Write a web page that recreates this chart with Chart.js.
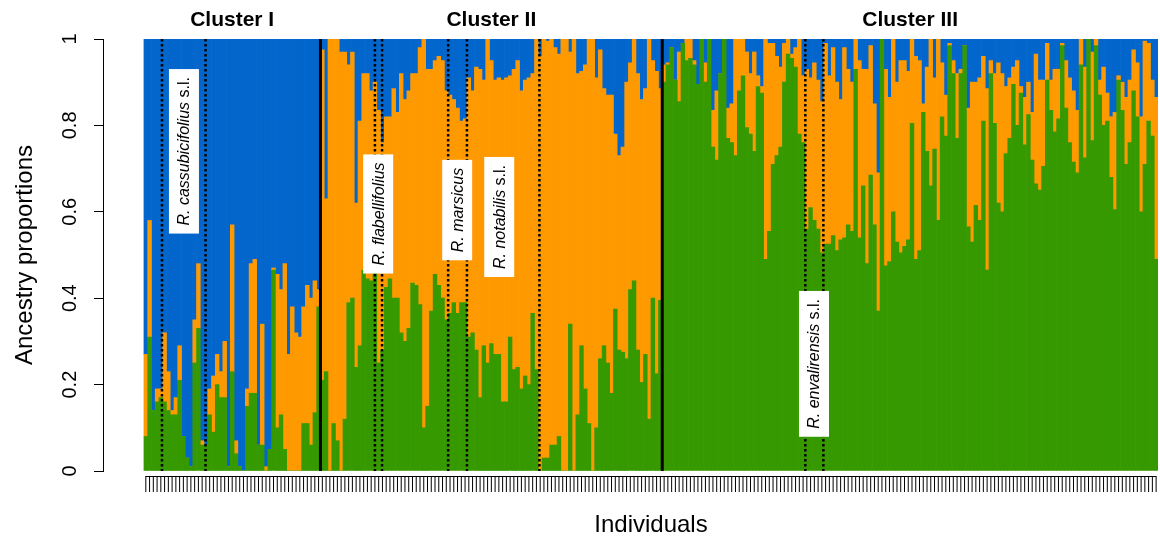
<!DOCTYPE html>
<html>
<head>
<meta charset="utf-8">
<script src="https://cdn.jsdelivr.net/npm/chart.js@4.4.1/dist/chart.umd.min.js"></script>
<style>
  html, body { margin: 0; padding: 0; background: #fff; }
  #wrap { width: 1160px; height: 541px; }
</style>
</head>
<body>
<div id="wrap"><canvas id="c" width="1160" height="541"></canvas></div>
<script>
// ancestry proportions per individual (green = bottom, orange = middle, blue = top)
const green = [
  .08,.31,.14,.16,.17,.16,.14,.13,.13,.21,
  .08,.03,.01,.25,.33,.06,.06,.13,.09,.20,
  .17,.17,.01,.23,.04,.01,0,.15,.18,.18,
  .06,.06,0,.05,.465,.10,.13,.05,0,0,
  0,0,.11,.11,.06,.135,.38,.21,.23,0,
  .11,.07,0,.12,.39,.40,.24,.29,.465,.445,
  .44,.465,.25,.28,.425,.445,.40,.40,.32,.30,
  .33,.435,.43,.385,.10,.15,.37,.455,.43,.40,
  .35,.365,.39,.365,.39,.39,.31,.32,.28,.17,
  .29,.25,.295,.27,.27,.16,.16,.31,.235,.24,
  .19,.22,.20,.365,.235,0,.03,.03,.06,.06,
  .08,0,0,.34,0,.13,.29,.19,.11,0,
  .10,.26,.29,.25,.18,.375,.28,.275,.26,.42,
  .44,.28,.205,.27,.12,.40,.225,.395,.90,.94,
  .98,.905,.855,.99,.95,.955,.94,.895,1,.90,
  1,.75,.72,.92,1,.77,.76,.73,.88,.915,
  .795,.78,.74,.89,.875,.49,.555,.71,.73,.75,
  .90,.965,.955,.935,.78,.76,.56,.61,.58,.56,
  .505,.525,.525,.545,.51,.535,.54,.57,.555,.93,
  .54,.66,.48,.685,.57,.37,1,.475,.485,.60,
  .53,.505,.52,.535,.805,.49,.51,.83,.74,.66,
  .745,.58,.82,.775,.985,.92,.77,.92,.985,.565,
  .53,.615,.58,.81,.465,.92,.805,.62,.60,.735,
  .77,.895,.80,.875,.755,.825,.72,.665,.65,.705,
  .905,.835,.785,.815,.985,.84,.76,.715,.69,.94,
  .725,1,.765,.985,.87,.80,.81,.68,.605,.905,
  .835,.71,.76,.88,.82,.60,.71,.81,.775,.49
];
const orange = [
  .19,.27,0,.03,.02,.16,.09,.01,.04,.08,
  0,0,0,.10,.15,.01,0,.06,.13,.07,
  .06,.13,0,.34,.03,0,0,.04,.30,.31,
  0,.28,.01,0,.005,.355,.29,.43,.27,.38,
  .32,.31,.27,.32,.34,.305,.04,.765,.40,1,
  .89,.93,.97,.85,.55,.57,.38,.52,.455,.475,
  .44,.435,.585,.48,.395,.375,.485,.43,.60,.56,
  .55,.485,.49,.595,.90,.78,.56,.495,.53,.55,
  .53,.505,.47,.475,.42,.425,.60,.56,.655,.76,
  .615,.75,.655,.635,.64,.745,.75,.605,.695,.71,
  .69,.685,.71,.555,.765,.96,.97,.965,.94,.92,
  .885,1,1,.63,1,.79,.635,.75,.89,1,
  .81,.715,.595,.62,.69,.405,.45,.475,.64,.525,
  .56,.64,.655,.615,.88,.55,.70,.49,.04,.005,
  0,0,.115,0,.05,.045,.01,0,0,.045,
  0,.085,.16,0,0,.07,.09,.27,.12,.085,
  .175,.14,.23,.025,.015,.51,.435,.28,.23,.185,
  .09,.035,.01,.045,.22,.155,.37,.30,.365,.345,
  .35,.465,.39,.435,.39,.325,.44,.36,.345,.07,
  .41,.27,.45,.30,.28,.32,0,.455,.38,.40,
  .37,.445,.43,.39,.195,.47,.44,.02,.195,.34,
  .165,.42,.125,.095,.005,.03,.15,.01,0,.275,
  .37,.285,.33,.15,.42,.03,.115,.325,.32,.155,
  .14,.04,.15,.015,.11,.075,.11,.30,.255,.20,
  .085,.07,.145,.115,.005,.11,.15,.165,.145,.06,
  .21,0,.205,.015,.035,.135,.065,.14,.225,.01,
  .065,.155,.145,.095,.125,.22,.285,.18,.13,.375
];
const blue = [
  .73,.42,.86,.81,.81,.68,.77,.86,.83,.71,
  .92,.97,.99,.65,.52,.93,.94,.81,.78,.73,
  .77,.70,.99,.43,.93,.99,1,.81,.52,.51,
  .94,.66,.99,.95,.53,.545,.58,.52,.73,.62,
  .68,.69,.62,.57,.60,.56,.58,.025,.37,0,
  0,0,.03,.03,.06,.03,.38,.19,.08,.08,
  .12,.10,.165,.24,.18,.18,.115,.17,.08,.14,
  .12,.08,.08,.02,0,.07,.07,.05,.04,.05,
  .12,.13,.14,.16,.19,.185,.09,.12,.065,.07,
  .095,0,.05,.095,.09,.095,.09,.085,.07,.05,
  .12,.095,.09,.08,0,.04,0,.005,0,.02,
  .035,0,0,.03,0,.08,.075,.06,0,0,
  .09,.025,.115,.13,.13,.22,.27,.25,.10,.055,
  0,.08,.14,.115,0,.05,.075,.115,.06,.055,
  .02,.095,.03,.01,0,0,.05,.105,0,.055,
  0,.165,.12,.08,0,.16,.15,0,0,0,
  .03,.08,.03,.085,.11,0,.01,.01,.04,.065,
  .01,0,.035,.02,0,.085,.07,.09,.055,.095,
  .145,.01,.085,.02,.10,.14,.02,.07,.10,0,
  .05,.07,.07,.015,.15,.31,0,.07,.135,0,
  .10,.05,.05,.075,0,.04,.05,.15,.065,0,
  .09,0,.055,.13,.01,.05,.08,.07,.015,.16,
  .10,.10,.09,.04,.115,.05,.08,.055,.08,.11,
  .09,.065,.05,.11,.135,.10,.17,.035,.095,.095,
  .01,.095,.07,.07,.01,.05,.09,.12,.165,0,
  .065,0,.03,0,.095,.065,.125,.18,.17,.085,
  .10,.135,.095,.025,.055,.18,.005,.01,.095,.135
];

const clusterNames = ['Cluster I', 'Cluster II', 'Cluster III'];
const clusterSizes = [47, 91, 132];
// species group separators (in individual index units)
const speciesLines = [4.3, 15.9, 61.0, 62.9, 80.5, 85.5, 104.8, 175.6, 180.4];
const speciesNames = ['R. cassubicifolius', 'R. flabellifolius', 'R. marsicus', 'R. notabilis', 'R. envalirensis'];
const speciesSuffix = [' s.l.', '', '', ' s.l.', ' s.l.'];
const speciesAt = [[10.15, 0.74], [61.86, 0.595], [82.9, 0.604], [94.1, 0.588], [177.9, 0.248]];
const yTickLabels = ['0', '0.2', '0.4', '0.6', '0.8', '1'];

const FONT = "'Liberation Sans', Arial, Helvetica, sans-serif";
const n = green.length;
const individuals = green.map((v, i) => i);

const decor = {
  id: 'decor',
  afterDatasetsDraw(chart) {
    const { ctx, chartArea: a, scales: { x, y } } = chart;
    ctx.save();

    // dotted separators
    ctx.strokeStyle = '#000';
    ctx.lineWidth = 2.5;
    ctx.setLineDash([2.5, 2.5]);
    speciesLines.forEach(v => {
      const px = x.getPixelForValue(v);
      ctx.beginPath();
      ctx.moveTo(px, a.top);
      ctx.lineTo(px, a.bottom);
      ctx.stroke();
    });
    ctx.setLineDash([]);

    // cluster boundaries + titles
    let edge = -0.5;
    ctx.lineWidth = 3;
    ctx.fillStyle = '#000';
    ctx.font = 'bold 21px ' + FONT;
    ctx.textAlign = 'center';
    ctx.textBaseline = 'middle';
    clusterSizes.forEach((s, i) => {
      const start = edge;
      edge += s;
      const cx = (x.getPixelForValue(start) + x.getPixelForValue(edge)) / 2;
      ctx.fillText(clusterNames[i], cx, a.top - 19);
      if (i < clusterSizes.length - 1) {
        const px = x.getPixelForValue(edge);
        ctx.beginPath();
        ctx.moveTo(px, a.top);
        ctx.lineTo(px, a.bottom);
        ctx.stroke();
      }
    });

    // species labels, rotated, in white boxes
    speciesNames.forEach((name, i) => {
      const cx = x.getPixelForValue(speciesAt[i][0]);
      const cy = y.getPixelForValue(speciesAt[i][1]);
      ctx.save();
      ctx.translate(cx, cy);
      ctx.rotate(-Math.PI / 2);
      const itFont = 'italic 16px ' + FONT;
      const upFont = '16px ' + FONT;
      ctx.font = itFont;
      const w1 = ctx.measureText(name).width;
      ctx.font = upFont;
      const w2 = ctx.measureText(speciesSuffix[i]).width;
      const w = w1 + w2;
      ctx.fillStyle = '#fff';
      ctx.fillRect(-w / 2 - 8, -15, w + 16, 30);
      ctx.fillStyle = '#000';
      ctx.textAlign = 'left';
      ctx.textBaseline = 'middle';
      ctx.font = itFont;
      ctx.fillText(name, -w / 2, 1);
      ctx.font = upFont;
      ctx.fillText(speciesSuffix[i], -w / 2 + w1, 1);
      ctx.restore();
    });

    // x axis: one tick per individual, offset below the bars
    const y0 = a.bottom + 5;
    ctx.lineWidth = 1;
    ctx.strokeStyle = '#000';
    ctx.beginPath();
    ctx.moveTo(x.getPixelForValue(0), y0 + 0.5);
    ctx.lineTo(x.getPixelForValue(n - 1), y0 + 0.5);
    ctx.stroke();
    individuals.forEach(i => {
      const px = x.getPixelForValue(i);
      ctx.beginPath();
      ctx.moveTo(px, y0);
      ctx.lineTo(px, y0 + 16);
      ctx.stroke();
    });

    // x axis title, centred under the bars
    ctx.font = '24px ' + FONT;
    ctx.textAlign = 'center';
    ctx.textBaseline = 'middle';
    ctx.fillText('Individuals', (x.getPixelForValue(-0.5) + x.getPixelForValue(n - 0.5)) / 2, a.bottom + 54);
    ctx.restore();
  }
};

new Chart(document.getElementById('c'), {
  type: 'bar',
  data: {
    labels: individuals,
    datasets: [
      { label: 'green', data: green, backgroundColor: 'rgb(54,153,0)' },
      { label: 'orange', data: orange, backgroundColor: 'rgb(255,153,0)' },
      { label: 'blue', data: blue, backgroundColor: 'rgb(3,102,204)' }
    ]
  },
  options: {
    responsive: false,
    animation: false,
    devicePixelRatio: 1,
    layout: { padding: { top: 39, right: 2, left: 0, bottom: 0 } },
    datasets: { bar: { barPercentage: 1, categoryPercentage: 1, borderWidth: 0, grouped: false } },
    plugins: { legend: { display: false }, tooltip: { enabled: false } },
    scales: {
      x: {
        type: 'linear',
        offset: false,
        stacked: true,
        min: -11.4,
        max: n - 0.5,
        display: true,
        grid: { display: false, offset: false },
        border: { display: false },
        ticks: { display: false },
        afterFit(s) { s.height = 70; }
      },
      y: {
        stacked: true,
        min: 0,
        max: 1,
        ticks: {
          stepSize: 0.2,
          color: '#000',
          font: { size: 20, family: FONT },
          minRotation: 90,
          maxRotation: 90,
          crossAlign: 'center',
          padding: 10,
          callback: (v, i) => yTickLabels[i]
        },
        grid: { drawOnChartArea: false, drawTicks: true, tickLength: 9, color: '#000', lineWidth: 1 },
        border: { display: true, color: '#000', width: 1 },
        title: { display: true, text: 'Ancestry proportions', color: '#000', font: { size: 24, family: FONT }, padding: { top: 11, bottom: 0 } },
        afterFit(s) { s.width = 103; }
      }
    }
  },
  plugins: [decor]
});
</script>
</body>
</html>
